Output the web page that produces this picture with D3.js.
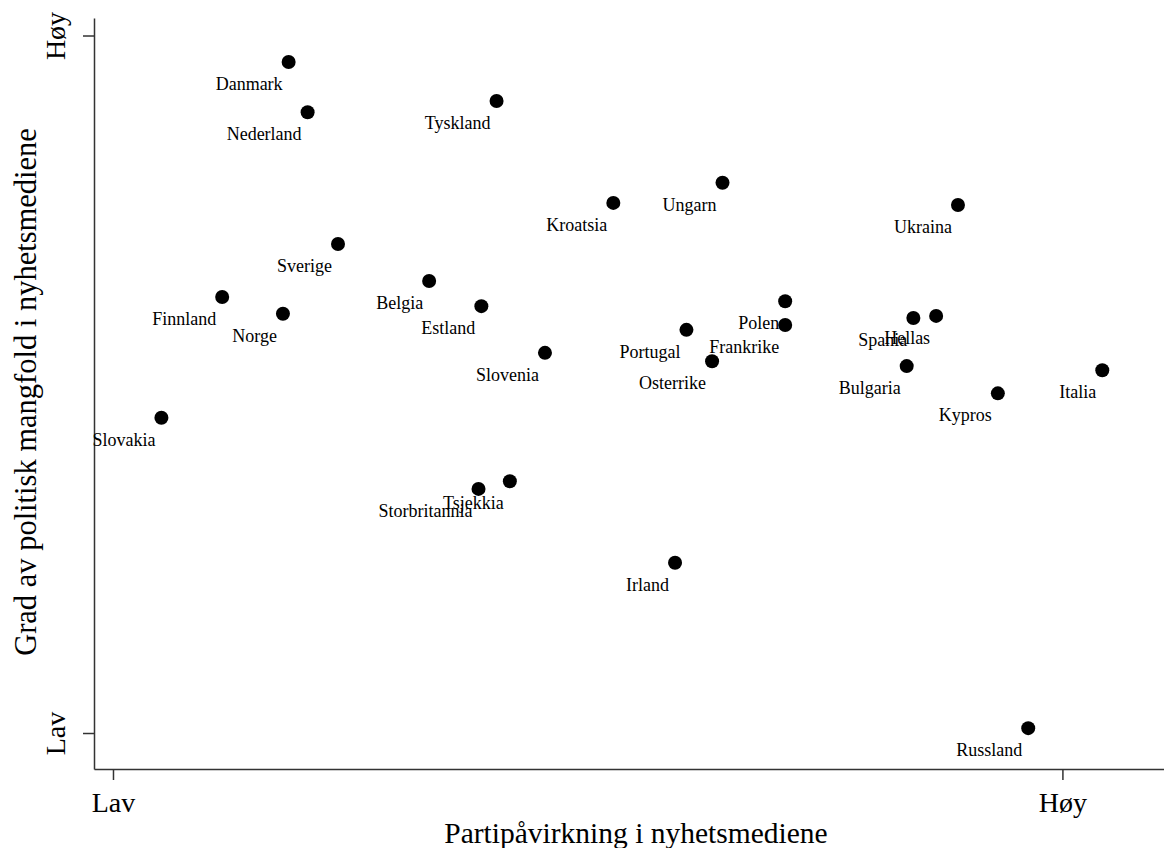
<!DOCTYPE html>
<html>
<head>
<meta charset="utf-8">
<script src="https://cdn.jsdelivr.net/npm/d3@7"></script>
<style>
  body { margin: 0; background: #fff; }
  text { font-family: "Liberation Serif", "Times New Roman", serif; }
</style>
</head>
<body>
<svg width="1164" height="848"></svg>
<script>
// country labels and positions (0 = Lav, 1 = Høy)
var countries = ["Danmark", "Nederland", "Tyskland", "Ungarn", "Kroatsia", "Ukraina",
  "Sverige", "Finnland", "Norge", "Belgia", "Estland", "Slovenia", "Portugal",
  "Polen", "Frankrike", "Osterrike", "Spania", "Hellas", "Bulgaria", "Italia",
  "Kypros", "Slovakia", "Tsjekkia", "Storbritannia", "Irland", "Russland"];
var partyInfluence = [0.185, 0.205, 0.404, 0.642, 0.527, 0.890,
  0.237, 0.115, 0.179, 0.333, 0.388, 0.455, 0.604,
  0.708, 0.708, 0.631, 0.843, 0.867, 0.836, 1.042,
  0.932, 0.051, 0.418, 0.385, 0.592, 0.964];
var diversity = [0.962, 0.890, 0.906, 0.789, 0.760, 0.757,
  0.701, 0.625, 0.601, 0.648, 0.612, 0.545, 0.578,
  0.619, 0.585, 0.533, 0.595, 0.598, 0.526, 0.520,
  0.487, 0.452, 0.361, 0.350, 0.244, 0.007];
var tickValues = [0, 1];
var tickLabels = ["Lav", "Høy"];

var svg = d3.select("svg");

// scales: ticks at Lav/Høy, axis lines extend past them
var x = d3.scaleLinear().domain([-0.02, 1.107]).range([94, 1164]);
var y = d3.scaleLinear().domain([-0.0516, 1.0251]).range([769, 18]);

var xAxis = svg.append("g")
    .attr("transform", "translate(0,769)")
    .call(d3.axisBottom(x).tickValues(tickValues).tickSizeInner(11).tickSizeOuter(0)
      .tickFormat(function(d, i) { return tickLabels[i]; }));

var yAxis = svg.append("g")
    .attr("transform", "translate(94,0)")
    .call(d3.axisLeft(y).tickValues(tickValues).tickSizeInner(11).tickSizeOuter(0)
      .tickFormat(function(d, i) { return tickLabels[i]; }));

svg.selectAll(".domain, .tick line")
    .attr("stroke", "#333")
    .attr("stroke-width", 1.5);

xAxis.selectAll(".tick text")
    .attr("y", 0)
    .attr("dy", null)
    .attr("transform", "translate(0,43)")
    .style("font-size", "28px")
    .attr("fill", "#000");

yAxis.selectAll(".tick text")
    .attr("x", 0)
    .attr("dy", null)
    .attr("text-anchor", "middle")
    .attr("transform", "translate(-29,0) rotate(-90)")
    .style("font-size", "28px")
    .attr("fill", "#000");

// axis titles
svg.append("text")
    .attr("x", 636)
    .attr("y", 843)
    .attr("text-anchor", "middle")
    .style("font-size", "29.5px")
    .text("Partipåvirkning i nyhetsmediene");

svg.append("text")
    .attr("transform", "translate(36,392) rotate(-90)")
    .attr("text-anchor", "middle")
    .style("font-size", "30.5px")
    .text("Grad av politisk mangfold i nyhetsmediene");

// points
var points = svg.append("g")
    .selectAll("circle")
    .data(countries)
    .enter().append("circle")
    .attr("cx", function(d, i) { return x(partyInfluence[i]); })
    .attr("cy", function(d, i) { return y(diversity[i]); })
    .attr("r", 7)
    .attr("fill", "#000");

// labels, lower left of each point
var labels = svg.append("g")
    .selectAll("text")
    .data(countries)
    .enter().append("text")
    .attr("x", function(d, i) { return x(partyInfluence[i]) - 6; })
    .attr("y", function(d, i) { return y(diversity[i]) + 28; })
    .attr("text-anchor", "end")
    .style("font-size", "18px")
    .text(function(d) { return d; });
</script>
</body>
</html>
